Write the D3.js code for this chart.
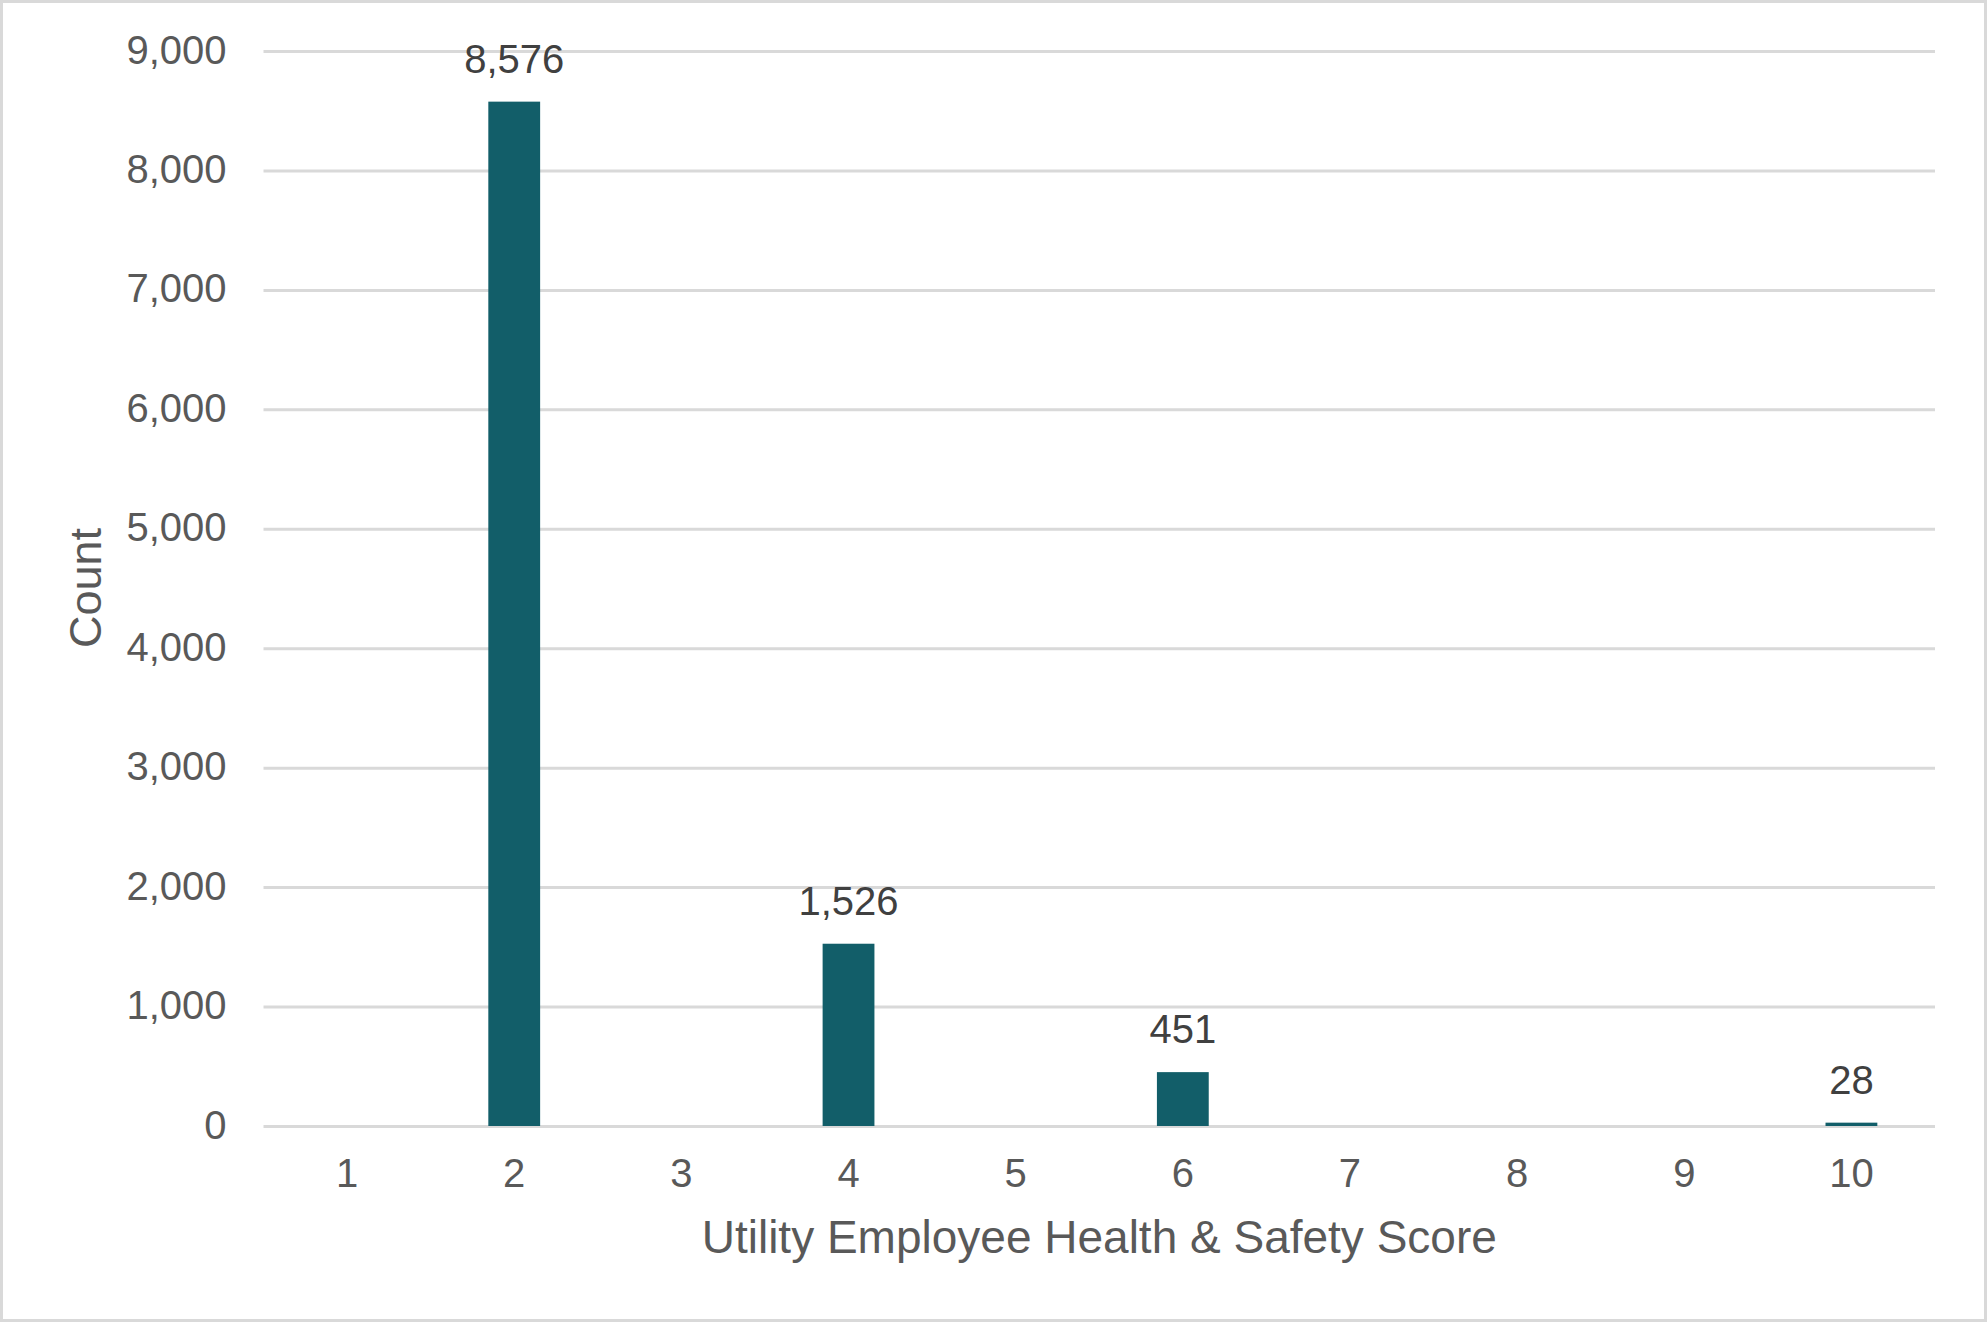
<!DOCTYPE html>
<html>
<head>
<meta charset="utf-8">
<script src="https://cdn.jsdelivr.net/npm/d3@7"></script>
<style>
  body { margin: 0; background: #fff; }
  svg { display: block; font-family: "Liberation Sans", Arial, sans-serif; }
</style>
</head>
<body>
<script>
// data
const scores = ["1", "2", "3", "4", "5", "6", "7", "8", "9", "10"]
const counts = [null, 8576, null, 1526, null, 451, null, null, null, 28]
const yTicks = [0, 1000, 2000, 3000, 4000, 5000, 6000, 7000, 8000, 9000]

const width = 1987
const height = 1322
const margin = { top: 51, left: 263.5, right: 52, bottom: 196 }

const svg = d3.select("body").append("svg")
  .attr("width", width)
  .attr("height", height)

// outer frame
svg.append("rect")
  .attr("x", 1.5).attr("y", 1.5)
  .attr("width", width - 3).attr("height", height - 3)
  .attr("fill", "#fff")
  .attr("stroke", "#d9d9d9")
  .attr("stroke-width", 3)

const x = d3.scaleBand()
  .domain(scores)
  .range([margin.left, width - margin.right])
  .paddingInner(0.69)
  .paddingOuter(0.345)

const y = d3.scaleLinear()
  .domain([0, 9000])
  .range([height - margin.bottom, margin.top])

// gridlines + y labels
const yAxis = svg.append("g")
  .attr("transform", `translate(${margin.left},0)`)
  .call(d3.axisLeft(y)
    .tickValues(yTicks)
    .tickSize(-(width - margin.right - margin.left))
    .tickPadding(37)
    .tickFormat(d3.format(",")))
yAxis.select(".domain").remove()
yAxis.selectAll(".tick line")
  .attr("stroke", "#d9d9d9")
  .attr("stroke-width", 3)
yAxis.selectAll(".tick text")
  .attr("fill", "#595959")
  .attr("font-size", 40)
  .attr("dy", "0.3em")

// bars
const data = scores.map((s, i) => ({ score: s, count: counts[i] })).filter(d => d.count != null)

svg.append("g")
  .selectAll("rect")
  .data(data)
  .join("rect")
    .attr("x", d => x(d.score))
    .attr("y", d => y(d.count))
    .attr("width", x.bandwidth())
    .attr("height", d => y(0) - y(d.count))
    .attr("fill", "#125e69")

// value labels
svg.append("g")
  .selectAll("text")
  .data(data)
  .join("text")
    .attr("x", d => x(d.score) + x.bandwidth() / 2)
    .attr("y", d => y(d.count) - 29)
    .attr("text-anchor", "middle")
    .attr("fill", "#404040")
    .attr("font-size", 40)
    .text(d => d3.format(",")(d.count))

// x labels
const xAxis = svg.append("g")
  .attr("transform", `translate(0,${y(0)})`)
  .call(d3.axisBottom(x).tickSize(0).tickPadding(33))
xAxis.select(".domain").remove()
xAxis.selectAll(".tick text")
  .attr("fill", "#595959")
  .attr("font-size", 40)
  .attr("dy", "0.71em")

// axis titles
svg.append("text")
  .attr("x", (margin.left + width - margin.right) / 2)
  .attr("y", 1253)
  .attr("text-anchor", "middle")
  .attr("fill", "#595959")
  .attr("font-size", 46)
  .text("Utility Employee Health & Safety Score")

svg.append("text")
  .attr("transform", "translate(101,588) rotate(-90)")
  .attr("text-anchor", "middle")
  .attr("fill", "#595959")
  .attr("font-size", 45)
  .text("Count")
</script>
</body>
</html>
